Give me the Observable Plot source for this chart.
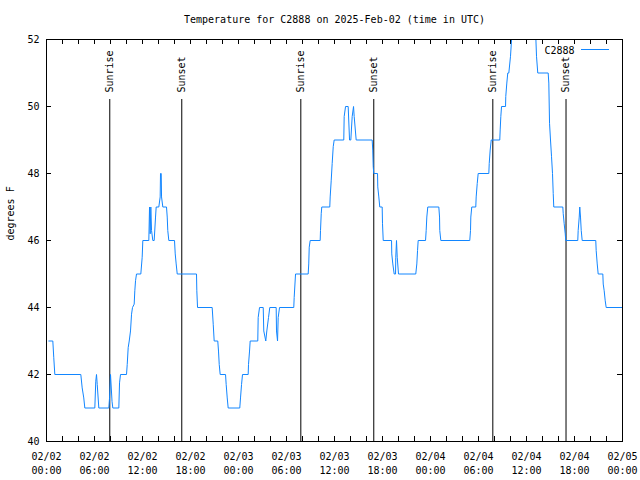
<!DOCTYPE html>
<html><head><meta charset="utf-8">
<script src="https://cdn.jsdelivr.net/npm/d3@7"></script>
<script src="https://cdn.jsdelivr.net/npm/@observablehq/plot@0.6"></script>
<style>body{margin:0;background:#fff}</style>
</head><body><div id="chart"></div>
<script>
const title = "Temperature for C2888 on 2025-Feb-02 (time in UTC)";
const yLabel = "degrees F";
const seriesName = "C2888";
const startDate = "2025-02-02T00:00:00Z";
const endDate = "2025-02-05T00:00:00Z";

// hours since 2025-02-02 00:00 UTC
const hours = [0.29,0.79,0.91,1.04,4.29,4.46,4.66,4.79,6.04,6.16,6.25,6.34,6.54,7.79,7.88,8.0,8.19,8.29,9.04,9.13,9.25,10.0,10.09,10.21,10.34,10.5,10.63,10.75,10.96,11.04,11.13,11.25,11.79,11.96,12.04,12.79,12.88,12.96,13.04,13.13,13.29,13.46,13.63,13.71,14.04,14.21,14.25,14.34,14.38,14.54,15.0,15.09,15.16,15.29,16.0,16.09,16.21,16.34,18.75,18.79,18.88,20.71,20.84,20.96,21.41,21.5,21.59,21.71,22.38,22.46,22.59,22.71,24.16,24.25,24.38,24.5,25.21,25.25,25.38,25.46,26.41,26.46,26.63,27.09,27.16,27.41,27.54,27.75,27.91,28.71,28.75,28.88,28.96,29.13,30.91,30.96,31.13,32.71,32.78,32.84,32.96,34.21,34.25,34.34,34.41,35.41,35.46,35.59,35.71,35.84,35.96,37.16,37.21,37.38,37.71,37.88,38.04,38.21,38.38,38.46,38.71,40.71,40.78,40.84,40.91,41.38,41.41,41.54,41.66,41.96,42.0,42.09,43.13,43.16,43.29,43.46,43.63,43.66,43.75,43.84,44.0,46.16,46.29,46.38,46.46,47.38,47.46,47.54,47.66,49.04,49.13,49.16,49.29,52.91,53.0,53.04,53.16,53.66,53.71,53.84,53.96,55.29,55.34,55.46,55.59,56.66,56.71,56.79,56.88,57.38,57.41,57.54,57.66,57.79,58.0,58.21,58.38,60.88,61.13,61.25,61.41,62.71,62.79,62.88,63.0,63.13,63.25,63.34,63.41,64.54,64.59,64.71,64.84,64.91,66.41,66.46,66.59,66.66,66.75,66.84,66.96,68.66,68.71,68.84,68.96,69.54,69.59,69.71,69.84,69.96,71.96];
const tempF = [43,43,42.5,42,42,41.6,41.3,41,41,41.8,42,41.7,41,41,41.3,42,41.2,41,41,41.75,42,42,42.3,42.8,43,43.3,43.8,44,44.1,44.5,44.8,45,45,45.5,46,46,47,46.2,47,46.3,46,46,46.7,47,47,47.3,48,48,47.3,47,47,46.7,46.3,46,46,45.6,45.3,45,45,44.5,44,44,43.5,43,43,42.7,42.3,42,42,41.7,41.3,41,41,41.3,41.7,42,42,42.3,42.7,43,43,43.7,44,44,43.3,43,43.3,43.7,44,44,43.3,43,43.7,44,44,44.3,45,45,45.3,45.8,46,46,46.3,46.8,47,47,47.3,47.8,48.3,48.8,49,49,49.7,50,50,49,49,49.7,50,49.7,49,49,48.7,48.2,48,48,47.6,47.3,47,47,46.5,46,46,45.6,45.3,45,45,45.5,46,45.5,45,45,45.3,45.7,46,46,46.3,46.7,47,47,46.7,46.3,46,46,46.3,46.7,47,47,47.3,47.7,48,48,48.3,48.7,49,49,49.3,49.7,50,50,50.3,50.7,51,51,51.5,52.3,53,53,52.3,51.5,51,51,50.7,49.5,49,48.5,48,47.4,47,47,46.8,46.5,46.2,46,46,46.3,46.7,47,46.7,46.3,46,46,45.7,45.3,45,45,44.7,44.5,44.2,44,44];

const sunLabels = ["Sunrise","Sunset","Sunrise","Sunset","Sunrise","Sunset"];
const sunHours = [7.91,16.91,31.79,40.91,55.79,64.94];
const yTicks = [40,42,44,46,48,50,52];

const t0 = Date.parse(startDate);
const toDate = h => new Date(t0 + h * 3600e3);
const data = hours.map((h, i) => ({time: toDate(h), temp: tempF[i]}));
const events = sunLabels.map((s, i) => ({label: s, time: toDate(sunHours[i])}));
const x0 = new Date(startDate), x1 = new Date(endDate);
const xTicks = d3.utcHour.range(x0, new Date(+x1 + 1), 2);
const xLabelTicks = d3.utcHour.range(x0, new Date(+x1 + 1), 6);
const fmt = d3.utcFormat("%m/%d\n%H:%M");

const W = 640, H = 480, mt = 39, mb = 39, ml = 46, mr = 18;
const fw = W - ml - mr, fh = H - mt - mb;
const blue = "#1286ff";

function legendLine(index, scales, values, dims) {
  const l = document.createElementNS("http://www.w3.org/2000/svg", "line");
  const xe = dims.width - dims.marginRight - 13;
  l.setAttribute("x1", xe - 28);
  l.setAttribute("x2", xe);
  l.setAttribute("y1", dims.marginTop + 10.5);
  l.setAttribute("y2", dims.marginTop + 10.5);
  l.setAttribute("stroke", blue);
  l.setAttribute("stroke-width", 1);
  return l;
}

const chart = Plot.plot({
  width: W, height: H,
  marginTop: mt, marginBottom: mb, marginLeft: ml, marginRight: mr,
  style: {fontFamily: "'DejaVu Sans Mono', monospace", fontSize: "10px", background: "white", color: "black"},
  x: {type: "utc", domain: [x0, x1], label: null},
  y: {domain: [40, 52], label: null},
  marks: [
    Plot.axisX(xLabelTicks, {tickSize: 0, tickPadding: 8, tickFormat: fmt, lineHeight: 1.45, label: null}),
    Plot.axisY(yTicks, {tickSize: 0, tickPadding: 7, label: null}),
    Plot.tickX(xTicks, {x: d => d, insetTop: fh - 5, stroke: "black"}),
    Plot.tickX(xTicks, {x: d => d, insetBottom: fh - 5, stroke: "black"}),
    Plot.tickY(yTicks, {y: d => d, insetRight: fw - 5, stroke: "black"}),
    Plot.tickY(yTicks, {y: d => d, insetLeft: fw - 5, stroke: "black"}),
    Plot.ruleX(events, {x: "time", insetTop: 60, stroke: "black"}),
    Plot.text(events, {x: "time", text: "label", frameAnchor: "top", lineAnchor: "middle", dy: 53, rotate: -90, textAnchor: "start", fill: "black"}),
    Plot.line(data, {x: "time", y: "temp", stroke: blue, strokeWidth: 1, clip: true}),
    Plot.frame({stroke: "black"}),
    Plot.text([title], {text: d => d, frameAnchor: "top", lineAnchor: "middle", dy: -20, fill: "black"}),
    Plot.text([yLabel], {text: d => d, frameAnchor: "left", lineAnchor: "middle", dx: -36, rotate: -90, fill: "black"}),
    Plot.text([seriesName], {text: d => d, frameAnchor: "top-right", lineAnchor: "middle", dx: -48, dy: 11, textAnchor: "end", fill: "black"}),
    legendLine
  ]
});
document.getElementById("chart").appendChild(chart);
</script>
</body></html>
